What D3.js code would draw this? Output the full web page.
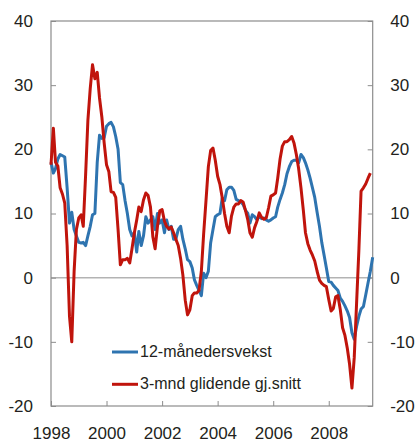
<!DOCTYPE html>
<html>
<head>
<meta charset="utf-8">
<script src="https://cdn.jsdelivr.net/npm/d3@7"></script>
<style>
  body { margin: 0; background: #fff; }
  svg text { font-family: "Liberation Sans", Arial, sans-serif; fill: #231f20; }
</style>
</head>
<body>
<div id="chart"></div>
<script>
// monthly values from Jan 1998
var startYear = 1998;
var yearTicks = [1998, 2000, 2002, 2004, 2006, 2008];
var valueTicks = [-20, -10, 0, 10, 20, 30, 40];
var seriesNames = ["12-månedersvekst", "3-mnd glidende gj.snitt"];

var twelveMonth = [
  18.0, 16.3, 17.0, 18.5, 19.2, 19.0, 18.8, 14.0, 8.5, 10.2, 7.5, 6.5,
  5.5, 5.4, 5.5, 5.0, 6.5, 8.0, 9.8, 10.0, 18.0, 22.2, 21.7, 21.8,
  23.6, 24.0, 24.2, 23.5, 22.0, 20.0, 14.8, 14.5, 12.0, 10.0, 7.5, 6.5,
  7.0, 4.0, 7.2, 5.0, 6.5, 9.5, 8.5, 9.0, 9.5, 7.5, 10.0, 8.5,
  9.0, 7.0, 9.0, 7.5, 8.0, 6.0, 6.0, 7.5, 8.0, 6.0, 4.5, 2.8,
  2.5, 1.5, -0.3, -1.2, -2.0, -2.8, 0.7, 0.0, 1.0, 5.4, 7.5, 9.5,
  9.8, 10.0, 12.4, 12.0, 13.7, 14.1, 14.1, 13.6, 12.2, 12.0, 11.8, 11.4,
  10.5, 10.0, 8.5, 9.8, 9.5, 9.0, 9.5, 9.2, 9.3, 9.0, 8.8, 9.0,
  9.3, 9.5, 11.0, 12.2, 13.2, 14.5, 16.2, 17.3, 18.1, 18.3, 18.3, 17.9,
  19.2, 18.7, 17.9, 16.8, 15.5, 14.0, 12.5, 10.2, 8.0, 5.5, 3.5, 1.5,
  -0.6, -0.7, -1.2, -1.6, -2.0, -3.2, -3.7, -4.4, -5.2, -6.2, -8.6, -9.6,
  -7.6, -6.0, -4.9, -4.5, -2.7, -0.8, 1.0, 3.2
];

var threeMonth = [
  17.6, 23.3, 18.0, 17.4, 14.0, 13.0, 11.6, 5.0, -6.0, -10.0, 1.0, 7.5,
  9.3, 9.8, 8.0, 16.0, 24.5, 29.5, 33.2, 31.0, 32.0, 28.0, 25.0, 21.0,
  17.6, 16.5, 13.4, 13.3, 12.5, 7.5, 2.0, 2.8, 2.8, 3.0, 2.3, 4.5,
  7.0, 9.0, 11.0, 10.3, 12.1, 13.2, 12.8, 11.0, 6.4, 4.5, 8.0, 10.4,
  10.6, 8.8, 8.0, 7.6, 7.9, 7.0, 6.0, 5.0, 3.0, 0.4, -3.5, -5.8,
  -5.0, -2.8, -2.4, -2.4, -2.0, 1.0, 6.8, 12.0, 17.3, 19.8, 20.2, 18.3,
  15.8, 14.5, 12.5, 10.0, 8.0, 7.0, 9.6, 11.0, 11.5, 11.5, 12.0, 11.8,
  10.5, 9.0, 7.0, 6.3, 7.8, 8.8, 10.1, 9.4, 9.1, 9.3, 10.9, 12.7,
  12.9, 13.2, 15.5, 18.5, 20.5, 21.2, 21.2, 21.5, 22.0, 21.0, 19.2, 17.0,
  14.0, 10.5, 7.0, 5.3, 4.3, 3.5, 2.6, 1.0, -0.4, -0.9, -1.2, -1.4,
  -3.4, -5.2, -4.8, -3.0, -2.8, -5.0, -7.8, -9.0, -11.0, -13.5, -17.2, -12.5,
  -4.0, 4.5, 13.5, 14.0, 14.6, 15.5, 16.3
];

var width = 417, height = 444;
var plot = { left: 51, right: 372.7, top: 21, bottom: 406 };
var colors = ["#2e74b0", "#c0140c"];
var plainNumber = d => String(d); // hyphen minus, as in the original

var svg = d3.select("#chart").append("svg")
    .attr("width", width)
    .attr("height", height);

var xScale = d3.scaleTime()
    .domain([new Date(startYear, 0, 1), new Date(2009, 7, 1)])
    .range([plot.left, plot.right]);

var yScale = d3.scaleLinear()
    .domain([-20, 40])
    .range([plot.bottom, plot.top]);

var toPoints = function (values) {
    return values.map((v, i) => ({ date: new Date(startYear, i, 1), value: v }));
};

// zero line
svg.append("line")
    .attr("x1", plot.left).attr("x2", plot.right)
    .attr("y1", yScale(0)).attr("y2", yScale(0))
    .attr("stroke", "#b3b3b3")
    .attr("stroke-width", 1.5);

// frame
svg.append("rect")
    .attr("x", plot.left).attr("y", plot.top)
    .attr("width", plot.right - plot.left)
    .attr("height", plot.bottom - plot.top)
    .attr("fill", "none")
    .attr("stroke", "#8c8c8c")
    .attr("stroke-width", 1.2);

// left axis
svg.append("g")
    .attr("transform", `translate(${plot.left},0)`)
    .call(d3.axisLeft(yScale).tickValues(valueTicks).tickFormat(plainNumber)
        .tickSizeInner(-5).tickSizeOuter(0).tickPadding(18))
    .call(g => g.select(".domain").remove())
    .call(g => g.selectAll("line").attr("stroke", "#8c8c8c"))
    .call(g => g.selectAll("text").attr("font-size", 17).attr("font-family", null));

// right axis
svg.append("g")
    .attr("transform", `translate(${plot.right},0)`)
    .call(d3.axisRight(yScale).tickValues(valueTicks).tickFormat(plainNumber)
        .tickSizeInner(-5).tickSizeOuter(0).tickPadding(17.5))
    .call(g => g.select(".domain").remove())
    .call(g => g.selectAll("line").attr("stroke", "#8c8c8c"))
    .call(g => g.selectAll("text").attr("font-size", 17).attr("font-family", null));

// bottom axis
svg.append("g")
    .attr("transform", `translate(0,${plot.bottom})`)
    .call(d3.axisBottom(xScale)
        .tickValues(yearTicks.map(y => new Date(y, 0, 1)))
        .tickFormat(d3.timeFormat("%Y"))
        .tickSizeInner(-5).tickSizeOuter(0).tickPadding(21))
    .call(g => g.select(".domain").remove())
    .call(g => g.selectAll("line").attr("stroke", "#8c8c8c"))
    .call(g => g.selectAll("text").attr("font-size", 17).attr("font-family", null));

// lines
var line = d3.line()
    .x(d => xScale(d.date))
    .y(d => yScale(d.value));

[twelveMonth, threeMonth].forEach((values, i) => {
    svg.append("path")
        .datum(toPoints(values))
        .attr("fill", "none")
        .attr("stroke", colors[i])
        .attr("stroke-width", 3)
        .attr("stroke-linejoin", "round")
        .attr("d", line);
});

// legend
var legend = svg.append("g").attr("transform", "translate(112,352)");
seriesNames.forEach((name, i) => {
    legend.append("line")
        .attr("x1", 0).attr("x2", 26)
        .attr("y1", i * 32.3).attr("y2", i * 32.3)
        .attr("stroke", colors[i])
        .attr("stroke-width", 3);
    legend.append("text")
        .attr("x", 28)
        .attr("y", i * 32.3 + 5)
        .attr("font-size", 16)
        .text(name);
});
</script>
</body>
</html>
